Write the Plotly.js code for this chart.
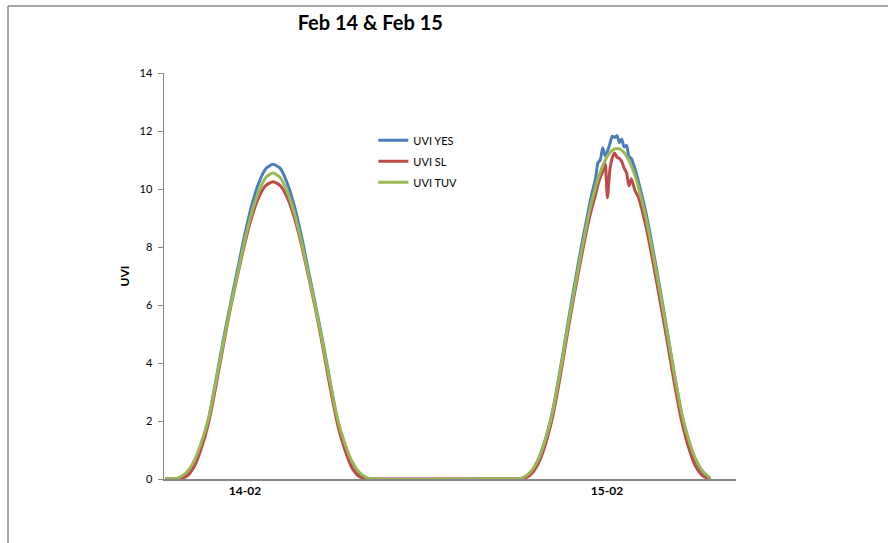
<!DOCTYPE html>
<html>
<head>
<meta charset="utf-8">
<script src="https://cdn.plot.ly/plotly-3.0.1.min.js"></script>
<style>
  html, body { margin: 0; padding: 0; background: #fff; }
  #chart { width: 888px; height: 543px; }
</style>
</head>
<body>
<div id="chart"></div>
<script>
// ---- Data (hours of local time) ----
const day1Hours = [5.0,5.5,6.0,6.5,7.0,7.5,8.0,8.5,9.0,9.5,10.0,10.5,11.0,11.5,12.0,12.5,13.0,13.5,14.0,14.5,15.0,15.5,16.0,16.5,17.0,17.5,18.0,18.5,19.0,19.5];
const day1Yes = [0,0,0.03,0.18,0.55,1.2,2.05,3.35,4.7,5.95,7.15,8.35,9.4,10.2,10.7,10.85,10.72,10.2,9.4,8.35,7.12,5.92,4.68,3.33,2.03,1.18,0.53,0.17,0.03,0];
const day1Sl  = [0,0,0.01,0.1,0.42,1.05,1.92,3.15,4.5,5.8,6.95,8.05,9.0,9.7,10.12,10.25,10.12,9.7,9.0,8.05,6.93,5.78,4.48,3.12,1.9,1.03,0.4,0.09,0.01,0];
const day1Tuv = [0,0,0.06,0.24,0.62,1.25,2.07,3.3,4.6,5.85,7.0,8.15,9.15,9.9,10.4,10.55,10.4,9.9,9.15,8.15,7.0,5.85,4.6,3.3,2.07,1.25,0.62,0.24,0.06,0];

const day2Hours = [5.0,5.5,6.0,6.5,7.0,7.5,8.0,8.5,9.0,9.5,10.0,10.5,10.75,11.0,11.17,11.33,11.5,11.67,11.83,12.0,12.17,12.33,12.5,12.67,12.83,13.0,13.17,13.33,13.5,13.75,14.0,14.5,15.0,15.5,16.0,16.5,17.0,17.5,18.0,18.5,19.0];
const day2Yes = [0,0,0.05,0.24,0.66,1.36,2.33,3.66,5.15,6.6,7.98,9.25,9.85,10.35,10.9,11.0,11.42,11.15,11.3,11.55,11.82,11.78,11.84,11.6,11.72,11.45,11.5,11.12,11.05,10.7,10.25,9.22,7.95,6.55,5.1,3.62,2.28,1.32,0.63,0.22,0];
const day2Sl  = [0,0,0.02,0.16,0.52,1.18,2.12,3.42,4.9,6.3,7.62,8.85,9.35,9.8,10.15,10.4,10.6,10.9,9.7,10.65,11.08,11.24,11.1,11.05,10.95,10.72,10.55,10.1,10.35,9.95,9.7,8.75,7.5,6.15,4.75,3.3,2.02,1.08,0.42,0.1,0];
const day2Tuv = [0,0,0.06,0.26,0.67,1.35,2.3,3.6,5.05,6.45,7.8,9.05,9.6,10.05,10.35,10.58,10.8,10.98,11.13,11.25,11.33,11.38,11.4,11.38,11.33,11.25,11.13,10.98,10.8,10.47,10.05,9.05,7.8,6.45,5.05,3.6,2.3,1.35,0.67,0.26,0.03];

const seriesNames = ['UVI YES', 'UVI SL', 'UVI TUV'];
const seriesColors = ['#4A7EBB', '#BE4B48', '#98B954'];
const tickLabels = ['14-02', '15-02'];
const tickHours = [10.55, 35.8];
const yTicks = [0, 2, 4, 6, 8, 10, 12, 14];

// ---- Build traces ----
const hours = day1Hours.concat(day2Hours.map(h => h + 24));
const values = [
  day1Yes.concat(day2Yes),
  day1Sl.concat(day2Sl),
  day1Tuv.concat(day2Tuv)
];

const traces = seriesNames.map((name, i) => ({
  type: 'scatter',
  mode: 'lines',
  name: name,
  legendgroup: 'g' + i,
  x: hours,
  y: values[i],
  line: { color: seriesColors[i], width: 3, shape: 'spline', smoothing: 0.6 },
  hoverinfo: 'skip'
}));

const axisGray = '#868686';
const font = 'Lato, "Liberation Sans", sans-serif';

const layout = {
  width: 888,
  height: 543,
  margin: { l: 164, r: 152, t: 73, b: 64 },
  paper_bgcolor: '#ffffff',
  plot_bgcolor: '#ffffff',
  font: { family: font, color: '#000' },
  title: {
    text: 'Feb 14 & Feb 15',
    font: { family: font, size: 20, weight: 'bold', color: '#000' },
    xref: 'container', x: 0.417, xanchor: 'center',
    yref: 'container', y: 0.958, yanchor: 'middle'
  },
  xaxis: {
    range: [4.9, 44.8],
    showgrid: false,
    zeroline: false,
    showline: true,
    linecolor: axisGray,
    linewidth: 1.5,
    ticks: '',
    tickmode: 'array',
    tickvals: tickHours,
    ticktext: tickLabels,
    tickfont: { family: font, size: 12, weight: 'bold', color: '#000' },
    fixedrange: true
  },
  yaxis: {
    range: [0, 14],
    tickmode: 'array',
    tickvals: yTicks,
    showgrid: false,
    zeroline: false,
    showline: true,
    linecolor: axisGray,
    linewidth: 1.5,
    ticks: 'outside',
    ticklen: 5,
    tickwidth: 1,
    tickcolor: axisGray,
    ticklabelstandoff: 3,
    tickfont: { family: font, size: 11, color: '#000' },
    title: { text: 'UVI', font: { family: font, size: 12, weight: 'bold', color: '#000' }, standoff: 7 },
    fixedrange: true
  },
  showlegend: true,
  legend: {
    x: 0.366, y: 0.87, xanchor: 'left', yanchor: 'top',
    bgcolor: 'rgba(0,0,0,0)',
    font: { family: font, size: 11, color: '#000' },
    tracegroupgap: 2,
    itemwidth: 30
  },
  shapes: [
    { type: 'line', xref: 'paper', yref: 'paper', x0: -0.2727, x1: -0.2727, y0: -0.3, y1: 1.165,
      line: { color: '#8a8a8a', width: 1.5 } },
    { type: 'line', xref: 'paper', yref: 'paper', x0: -0.2727, x1: 1.4, y0: 1.165, y1: 1.165,
      line: { color: '#8a8a8a', width: 1.5 } }
  ]
};

Plotly.newPlot('chart', traces, layout, { staticPlot: true, displayModeBar: false });
</script>
</body>
</html>
